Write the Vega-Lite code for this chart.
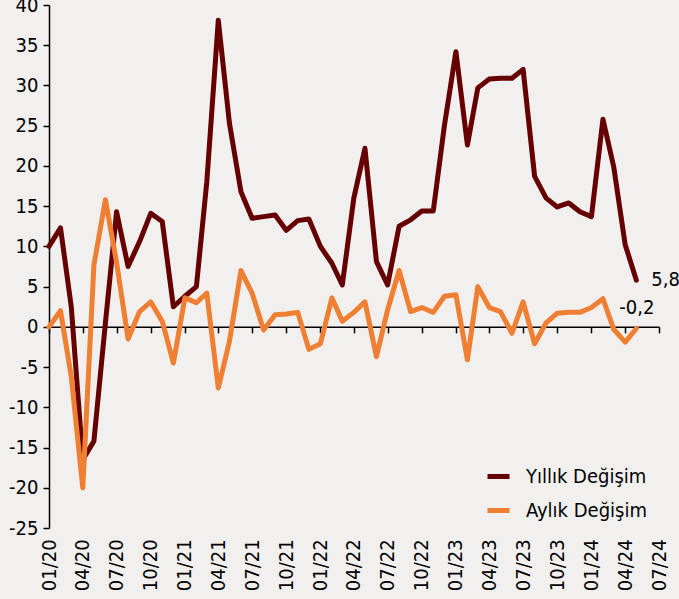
{
  "$schema": "https://vega.github.io/schema/vega-lite/v6.json",
  "autosize": {"type": "none"},
  "padding": {"left": 49, "top": 5, "right": 20, "bottom": 71},
  "width": 610,
  "height": 523,
  "background": "#F2F0EF",
  "config": {
    "view": {"stroke": null},
    "font": "DejaVu Sans Condensed, Liberation Sans, sans-serif",
    "locale": {"number": {"decimal": ",", "thousands": ".", "grouping": [3], "currency": ["", ""], "minus": "-"}}
  },
  "data": {"values": [
    {"date":"2020-01-01","series":"Yıllık Değişim","value":10.0},
    {"date":"2020-02-01","series":"Yıllık Değişim","value":12.3},
    {"date":"2020-03-01","series":"Yıllık Değişim","value":2.5},
    {"date":"2020-04-01","series":"Yıllık Değişim","value":-16.5},
    {"date":"2020-05-01","series":"Yıllık Değişim","value":-14.2},
    {"date":"2020-06-01","series":"Yıllık Değişim","value":0.5},
    {"date":"2020-07-01","series":"Yıllık Değişim","value":14.3},
    {"date":"2020-08-01","series":"Yıllık Değişim","value":7.5},
    {"date":"2020-09-01","series":"Yıllık Değişim","value":10.6},
    {"date":"2020-10-01","series":"Yıllık Değişim","value":14.1},
    {"date":"2020-11-01","series":"Yıllık Değişim","value":13.1},
    {"date":"2020-12-01","series":"Yıllık Değişim","value":2.5},
    {"date":"2021-01-01","series":"Yıllık Değişim","value":3.8},
    {"date":"2021-02-01","series":"Yıllık Değişim","value":5.0},
    {"date":"2021-03-01","series":"Yıllık Değişim","value":18.0},
    {"date":"2021-04-01","series":"Yıllık Değişim","value":38.1},
    {"date":"2021-05-01","series":"Yıllık Değişim","value":25.3},
    {"date":"2021-06-01","series":"Yıllık Değişim","value":16.8},
    {"date":"2021-07-01","series":"Yıllık Değişim","value":13.5},
    {"date":"2021-08-01","series":"Yıllık Değişim","value":13.7},
    {"date":"2021-09-01","series":"Yıllık Değişim","value":13.9},
    {"date":"2021-10-01","series":"Yıllık Değişim","value":12.0},
    {"date":"2021-11-01","series":"Yıllık Değişim","value":13.2},
    {"date":"2021-12-01","series":"Yıllık Değişim","value":13.4},
    {"date":"2022-01-01","series":"Yıllık Değişim","value":10.0},
    {"date":"2022-02-01","series":"Yıllık Değişim","value":7.9},
    {"date":"2022-03-01","series":"Yıllık Değişim","value":5.2},
    {"date":"2022-04-01","series":"Yıllık Değişim","value":16.0},
    {"date":"2022-05-01","series":"Yıllık Değişim","value":22.2},
    {"date":"2022-06-01","series":"Yıllık Değişim","value":8.1},
    {"date":"2022-07-01","series":"Yıllık Değişim","value":5.2},
    {"date":"2022-08-01","series":"Yıllık Değişim","value":12.5},
    {"date":"2022-09-01","series":"Yıllık Değişim","value":13.3},
    {"date":"2022-10-01","series":"Yıllık Değişim","value":14.4},
    {"date":"2022-11-01","series":"Yıllık Değişim","value":14.4},
    {"date":"2022-12-01","series":"Yıllık Değişim","value":25.0},
    {"date":"2023-01-01","series":"Yıllık Değişim","value":34.2},
    {"date":"2023-02-01","series":"Yıllık Değişim","value":22.6},
    {"date":"2023-03-01","series":"Yıllık Değişim","value":29.7},
    {"date":"2023-04-01","series":"Yıllık Değişim","value":30.8},
    {"date":"2023-05-01","series":"Yıllık Değişim","value":30.9},
    {"date":"2023-06-01","series":"Yıllık Değişim","value":30.9},
    {"date":"2023-07-01","series":"Yıllık Değişim","value":32.0},
    {"date":"2023-08-01","series":"Yıllık Değişim","value":18.7},
    {"date":"2023-09-01","series":"Yıllık Değişim","value":16.0},
    {"date":"2023-10-01","series":"Yıllık Değişim","value":14.9},
    {"date":"2023-11-01","series":"Yıllık Değişim","value":15.4},
    {"date":"2023-12-01","series":"Yıllık Değişim","value":14.3},
    {"date":"2024-01-01","series":"Yıllık Değişim","value":13.7},
    {"date":"2024-02-01","series":"Yıllık Değişim","value":25.8},
    {"date":"2024-03-01","series":"Yıllık Değişim","value":19.9},
    {"date":"2024-04-01","series":"Yıllık Değişim","value":10.2},
    {"date":"2024-05-01","series":"Yıllık Değişim","value":5.8},
    {"date":"2020-01-01","series":"Aylık Değişim","value":0.0},
    {"date":"2020-02-01","series":"Aylık Değişim","value":2.0},
    {"date":"2020-03-01","series":"Aylık Değişim","value":-6.2},
    {"date":"2020-04-01","series":"Aylık Değişim","value":-20.0},
    {"date":"2020-05-01","series":"Aylık Değişim","value":7.7},
    {"date":"2020-06-01","series":"Aylık Değişim","value":15.8},
    {"date":"2020-07-01","series":"Aylık Değişim","value":8.0},
    {"date":"2020-08-01","series":"Aylık Değişim","value":-1.5},
    {"date":"2020-09-01","series":"Aylık Değişim","value":1.9},
    {"date":"2020-10-01","series":"Aylık Değişim","value":3.1},
    {"date":"2020-11-01","series":"Aylık Değişim","value":0.7},
    {"date":"2020-12-01","series":"Aylık Değişim","value":-4.5},
    {"date":"2021-01-01","series":"Aylık Değişim","value":3.6},
    {"date":"2021-02-01","series":"Aylık Değişim","value":3.0},
    {"date":"2021-03-01","series":"Aylık Değişim","value":4.2},
    {"date":"2021-04-01","series":"Aylık Değişim","value":-7.6},
    {"date":"2021-05-01","series":"Aylık Değişim","value":-1.8},
    {"date":"2021-06-01","series":"Aylık Değişim","value":7.0},
    {"date":"2021-07-01","series":"Aylık Değişim","value":4.2},
    {"date":"2021-08-01","series":"Aylık Değişim","value":-0.4},
    {"date":"2021-09-01","series":"Aylık Değişim","value":1.5},
    {"date":"2021-10-01","series":"Aylık Değişim","value":1.6},
    {"date":"2021-11-01","series":"Aylık Değişim","value":1.8},
    {"date":"2021-12-01","series":"Aylık Değişim","value":-2.8},
    {"date":"2022-01-01","series":"Aylık Değişim","value":-2.1},
    {"date":"2022-02-01","series":"Aylık Değişim","value":3.6},
    {"date":"2022-03-01","series":"Aylık Değişim","value":0.7},
    {"date":"2022-04-01","series":"Aylık Değişim","value":1.8},
    {"date":"2022-05-01","series":"Aylık Değişim","value":3.1},
    {"date":"2022-06-01","series":"Aylık Değişim","value":-3.7},
    {"date":"2022-07-01","series":"Aylık Değişim","value":2.1},
    {"date":"2022-08-01","series":"Aylık Değişim","value":7.0},
    {"date":"2022-09-01","series":"Aylık Değişim","value":1.9},
    {"date":"2022-10-01","series":"Aylık Değişim","value":2.4},
    {"date":"2022-11-01","series":"Aylık Değişim","value":1.8},
    {"date":"2022-12-01","series":"Aylık Değişim","value":3.8},
    {"date":"2023-01-01","series":"Aylık Değişim","value":4.0},
    {"date":"2023-02-01","series":"Aylık Değişim","value":-4.1},
    {"date":"2023-03-01","series":"Aylık Değişim","value":5.0},
    {"date":"2023-04-01","series":"Aylık Değişim","value":2.4},
    {"date":"2023-05-01","series":"Aylık Değişim","value":1.9},
    {"date":"2023-06-01","series":"Aylık Değişim","value":-0.8},
    {"date":"2023-07-01","series":"Aylık Değişim","value":3.1},
    {"date":"2023-08-01","series":"Aylık Değişim","value":-2.1},
    {"date":"2023-09-01","series":"Aylık Değişim","value":0.5},
    {"date":"2023-10-01","series":"Aylık Değişim","value":1.7},
    {"date":"2023-11-01","series":"Aylık Değişim","value":1.8},
    {"date":"2023-12-01","series":"Aylık Değişim","value":1.8},
    {"date":"2024-01-01","series":"Aylık Değişim","value":2.4},
    {"date":"2024-02-01","series":"Aylık Değişim","value":3.5},
    {"date":"2024-03-01","series":"Aylık Değişim","value":-0.3},
    {"date":"2024-04-01","series":"Aylık Değişim","value":-1.9},
    {"date":"2024-05-01","series":"Aylık Değişim","value":-0.2}
  ]},
  "encoding": {
    "x": {
      "field": "date", "type": "temporal",
      "scale": {"type": "utc", "domain": [{"year": 2020, "month": 1, "date": 1, "utc": true}, {"year": 2024, "month": 7, "date": 1, "utc": true}]},
      "axis": {
        "title": null, "format": "%m/%y", "tickCount": {"interval": "month", "step": 3},
        "offset": -201.2, "domainColor": "black", "domainWidth": 1.5,
        "tickColor": "black", "tickWidth": 1.5, "tickSize": 6,
        "labelAngle": -90, "labelAlign": "right", "labelBaseline": "middle",
        "labelPadding": 206, "labelFontSize": 20, "labelColor": "black",
        "grid": false, "labelOverlap": false, "labelFlush": false
      }
    },
    "y": {
      "field": "value", "type": "quantitative",
      "scale": {"domain": [-25, 40], "nice": false, "zero": false},
      "axis": {
        "title": null, "values": [-25, -20, -15, -10, -5, 0, 5, 10, 15, 20, 25, 30, 35, 40],
        "labelExpr": "datum.value >= 0 ? datum.label + '\u00a0' : datum.label",
        "domainColor": "black", "domainWidth": 1.5,
        "tickColor": "black", "tickWidth": 1.5, "tickSize": 6,
        "labelPadding": 5, "labelFontSize": 20, "labelColor": "black",
        "grid": false, "labelOverlap": false, "labelFlush": false
      }
    }
  },
  "layer": [
    {
      "mark": {"type": "line", "strokeWidth": 5, "strokeCap": "round", "strokeJoin": "round"},
      "encoding": {
        "color": {
          "field": "series", "type": "nominal",
          "scale": {"domain": ["Yıllık Değişim", "Aylık Değişim"], "range": ["#660000", "#EF7F32"]},
          "legend": {
            "title": null, "orient": "none", "legendX": 436, "legendY": 458,
            "symbolType": "stroke", "symbolSize": 484, "symbolStrokeWidth": 5,
            "labelFontSize": 20, "labelColor": "black", "rowPadding": 10, "labelOffset": 14
          }
        }
      }
    },
    {
      "data": {"values": [{"date": "2024-05-01", "value": 5.8}]},
      "mark": {"type": "text", "align": "left", "baseline": "middle", "dx": 15, "dy": 0, "fontSize": 20, "color": "black"},
      "encoding": {"text": {"field": "value", "type": "quantitative", "format": ".1f"}}
    },
    {
      "data": {"values": [{"date": "2024-05-01", "value": -0.2}]},
      "mark": {"type": "text", "align": "left", "baseline": "middle", "dx": -17, "dy": -20, "fontSize": 20, "color": "black"},
      "encoding": {"text": {"field": "value", "type": "quantitative", "format": ".1f"}}
    }
  ]
}
